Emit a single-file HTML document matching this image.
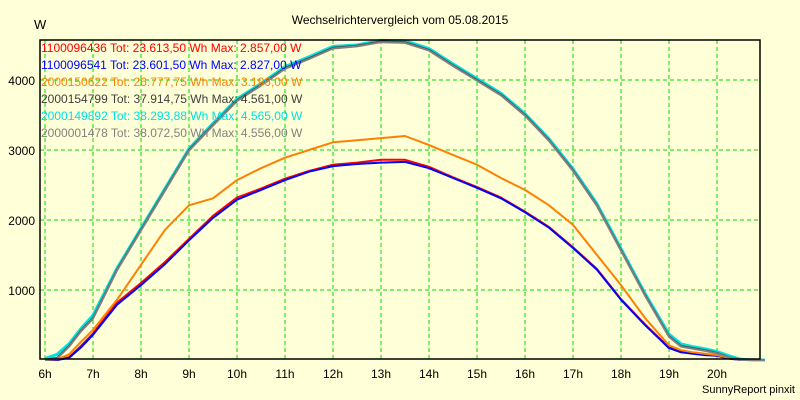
<!DOCTYPE html>
<html><head><meta charset="utf-8"><style>
body{margin:0;background:#ffffd8;}
svg{display:block;font-family:"Liberation Sans",sans-serif;}
</style></head><body>
<svg id="c" width="800" height="400" xmlns="http://www.w3.org/2000/svg">
<rect x="0" y="0" width="800" height="400" fill="#ffffd8"/>
<text x="400" y="24" text-anchor="middle" font-size="12" fill="#000">Wechselrichtervergleich vom 05.08.2015</text>
<text x="34" y="29" font-size="13" fill="#000">W</text>
<text x="795" y="393" text-anchor="end" font-size="11" fill="#000">SunnyReport pinxit</text>
<g id="grid"></g><g id="series"></g><g id="legend"></g><g id="axes"></g>
</svg>
<script>
const hours=[6,7,8,9,10,11,12,13,14,15,16,17,18,19,20];
const yTicks=[1000,2000,3000,4000];
const times=[6,6.25,6.5,6.75,7,7.5,8,8.5,9,9.5,10,10.5,11,11.5,12,12.5,13,13.5,14,14.5,15,15.5,16,16.5,17,17.5,18,18.5,19,19.25,19.5,19.75,20,20.25,20.5,20.75,21];
const red=[0,0,40,200,380,820,1100,1400,1730,2060,2320,2450,2590,2700,2790,2820,2860,2860,2760,2610,2470,2320,2120,1900,1610,1300,870,510,180,120,100,80,60,30,0,0,0];
const blue=[0,0,30,180,360,790,1070,1370,1710,2030,2290,2430,2570,2690,2770,2800,2820,2830,2740,2600,2460,2310,2110,1890,1600,1290,860,500,170,110,90,70,60,20,0,0,0];
const orange=[0,10,80,260,430,860,1360,1860,2210,2310,2570,2740,2890,3000,3110,3140,3170,3200,3070,2930,2790,2600,2430,2210,1930,1500,1070,600,210,140,110,90,70,30,0,0,0];
const dark=[0,30,200,420,600,1290,1860,2430,3000,3360,3710,3930,4170,4310,4460,4490,4550,4540,4430,4210,4000,3790,3500,3140,2710,2210,1570,930,340,200,170,140,100,40,0,0,0];
const cyan=[20,80,230,450,640,1310,1880,2450,3020,3380,3730,3950,4190,4330,4480,4500,4566,4560,4450,4230,4020,3810,3520,3160,2730,2230,1590,950,370,230,190,160,120,60,10,0,0];
const gray=[0,20,190,410,590,1280,1850,2420,2990,3350,3700,3920,4160,4300,4450,4480,4540,4530,4420,4200,3990,3780,3490,3130,2700,2200,1560,920,330,190,160,130,95,40,0,0,0];
const names=["1100096436 Tot: 23.613,50 Wh Max: 2.857,00 W","1100096541 Tot: 23.601,50 Wh Max: 2.827,00 W","2000150622 Tot: 26.777,75 Wh Max: 3.196,00 W","2000154799 Tot: 37.914,75 Wh Max: 4.561,00 W","2000149892 Tot: 38.293,88 Wh Max: 4.565,00 W","2000001478 Tot: 38.072,50 Wh Max: 4.556,00 W"];
const colors=["#ff0000","#0000ff","#ff8000","#404040","#00e0e0","#808080"];
const L=40,R=760,T=40,B=359;
const xs=h=>45+(h-6)*48;
const ys=v=>360-v*0.07;
const NS="http://www.w3.org/2000/svg";
function mk(tag,attrs,parent){const e=document.createElementNS(NS,tag);for(const k in attrs)e.setAttribute(k,attrs[k]);parent.appendChild(e);return e;}
const grid=document.getElementById('grid'),ser=document.getElementById('series'),leg=document.getElementById('legend'),axes=document.getElementById('axes');
mk('rect',{x:L,y:T,width:R-L,height:B-T,fill:'#ffffd8'},grid);
hours.forEach(h=>{
  const g=mk('line',{x1:xs(h),x2:xs(h),y1:T,y2:B,stroke:'#00dd00','stroke-dasharray':'4,3'},grid);
  
  
  const t=mk('text',{x:xs(h),y:378,'text-anchor':'middle','font-size':12},axes);
  t.textContent=h+'h';
  
  
});
yTicks.forEach(v=>{
  const g=mk('line',{x1:L,x2:R,y1:ys(v),y2:ys(v),stroke:'#00dd00','stroke-dasharray':'4,3'},grid);
  
  
  const t=mk('text',{x:35,y:ys(v)+5,'text-anchor':'end','font-size':12},axes);
  t.textContent=v;
  
  
});
[red,blue,orange,cyan,dark,gray].forEach((s,i)=>{
  const idx=[0,1,2,4,3,5][i];
  const p=mk('polyline',{points:s.map((v,j)=>xs(times[j]).toFixed(1)+','+ys(v).toFixed(1)).join(' '),fill:'none',stroke:colors[idx],'stroke-width':idx===4?3:2,'stroke-linejoin':'round'},ser);
  
  
});
names.forEach((n,i)=>{
  const t=mk('text',{x:41,y:52+i*17,'font-size':12,fill:colors[i]},leg);
  t.textContent=n;
  
  
});
const ax=mk('path',{d:`M${L},${T}H${R}V${B}H${L}Z`,fill:'none',stroke:'#000','stroke-width':1.5},axes);


</script>
</body></html>
